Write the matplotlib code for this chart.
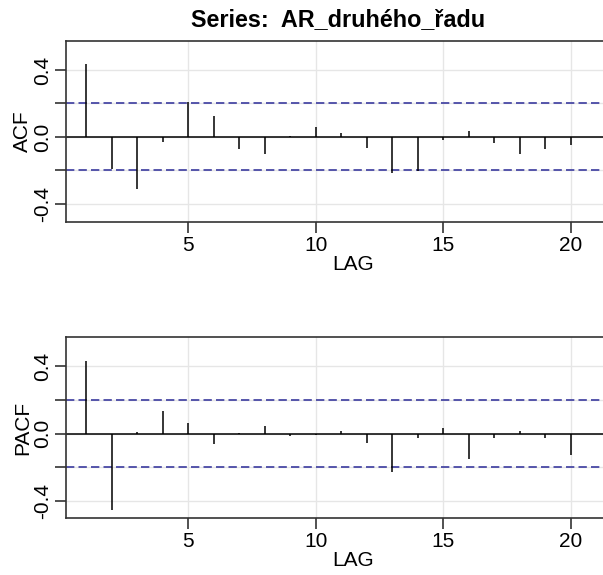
import matplotlib
matplotlib.use("Agg")
import matplotlib.pyplot as plt
import numpy as np

plt.rcParams['font.family'] = ['Liberation Sans', 'DejaVu Sans']

# values
lags = np.arange(1, 21)
acf_vals = [0.434, -0.19, -0.31, -0.028, 0.21, 0.123, -0.07, -0.10, 0.005, 0.058,
            0.024, -0.064, -0.213, -0.203, -0.018, 0.038, -0.034, -0.10, -0.07, -0.05]
pacf_vals = [0.432, -0.449, 0.012, 0.134, 0.061, -0.059, 0.003, 0.047, -0.012, -0.01,
             0.014, -0.053, -0.225, -0.024, 0.033, -0.152, -0.024, 0.014, -0.024, -0.124]
conf_level = 0.2
title = "Series:  AR_druhého_řadu"

W, H = 603, 575
fig = plt.figure(figsize=(W / 100, H / 100), dpi=100)

# axes box in pixels: left, right (off the canvas), top, bottom
left_px, right_px = 66.3, 640
px_per_lag = 25.5
x0 = 1 - (86.3 - left_px) / px_per_lag
x1 = x0 + (right_px - left_px) / px_per_lag
panels = [
    (acf_vals, "ACF", 41, 221.7, (-0.506, 0.573)),
    (pacf_vals, "PACF", 337.3, 517.7, (-0.497, 0.570)),
]

for vals, name, top_px, bot_px, ylim in panels:
    ax = fig.add_axes([left_px / W, 1 - bot_px / H,
                       (right_px - left_px) / W, (bot_px - top_px) / H])
    ax.set_xlim(x0, x1)
    ax.set_ylim(*ylim)
    ax.set_xticks([5, 10, 15, 20])
    ax.set_yticks([-0.4, -0.2, 0.0, 0.2, 0.4])
    ax.set_yticklabels(["-0.4", "", "0.0", "", "0.4"], rotation=90, va="center")
    ax.grid(True, color="#e6e6e6", lw=1)
    ax.set_axisbelow(True)
    ax.axhline(0, color="black", lw=1.1, zorder=2)
    for lv in (conf_level, -conf_level):
        ax.axhline(lv, color="#3b3b9e", lw=1.2, ls=(0, (5, 2.5)), zorder=2)
    ax.vlines(lags, 0, vals, color="black", lw=1.1, zorder=3)
    for s in ax.spines.values():
        s.set_color("#333333")
        s.set_linewidth(1.2)
    ax.tick_params(length=8, width=1.2, color="#333333", labelsize=15, pad=2)
    ax.set_xlabel("LAG", fontsize=15, labelpad=0)
    ax.set_ylabel(name, fontsize=15, labelpad=1)

fig.text(338 / W, 1 - 20 / H, title, ha="center", va="center",
         fontsize=16.8, fontweight="bold")

fig.savefig("out.png", dpi=100)
